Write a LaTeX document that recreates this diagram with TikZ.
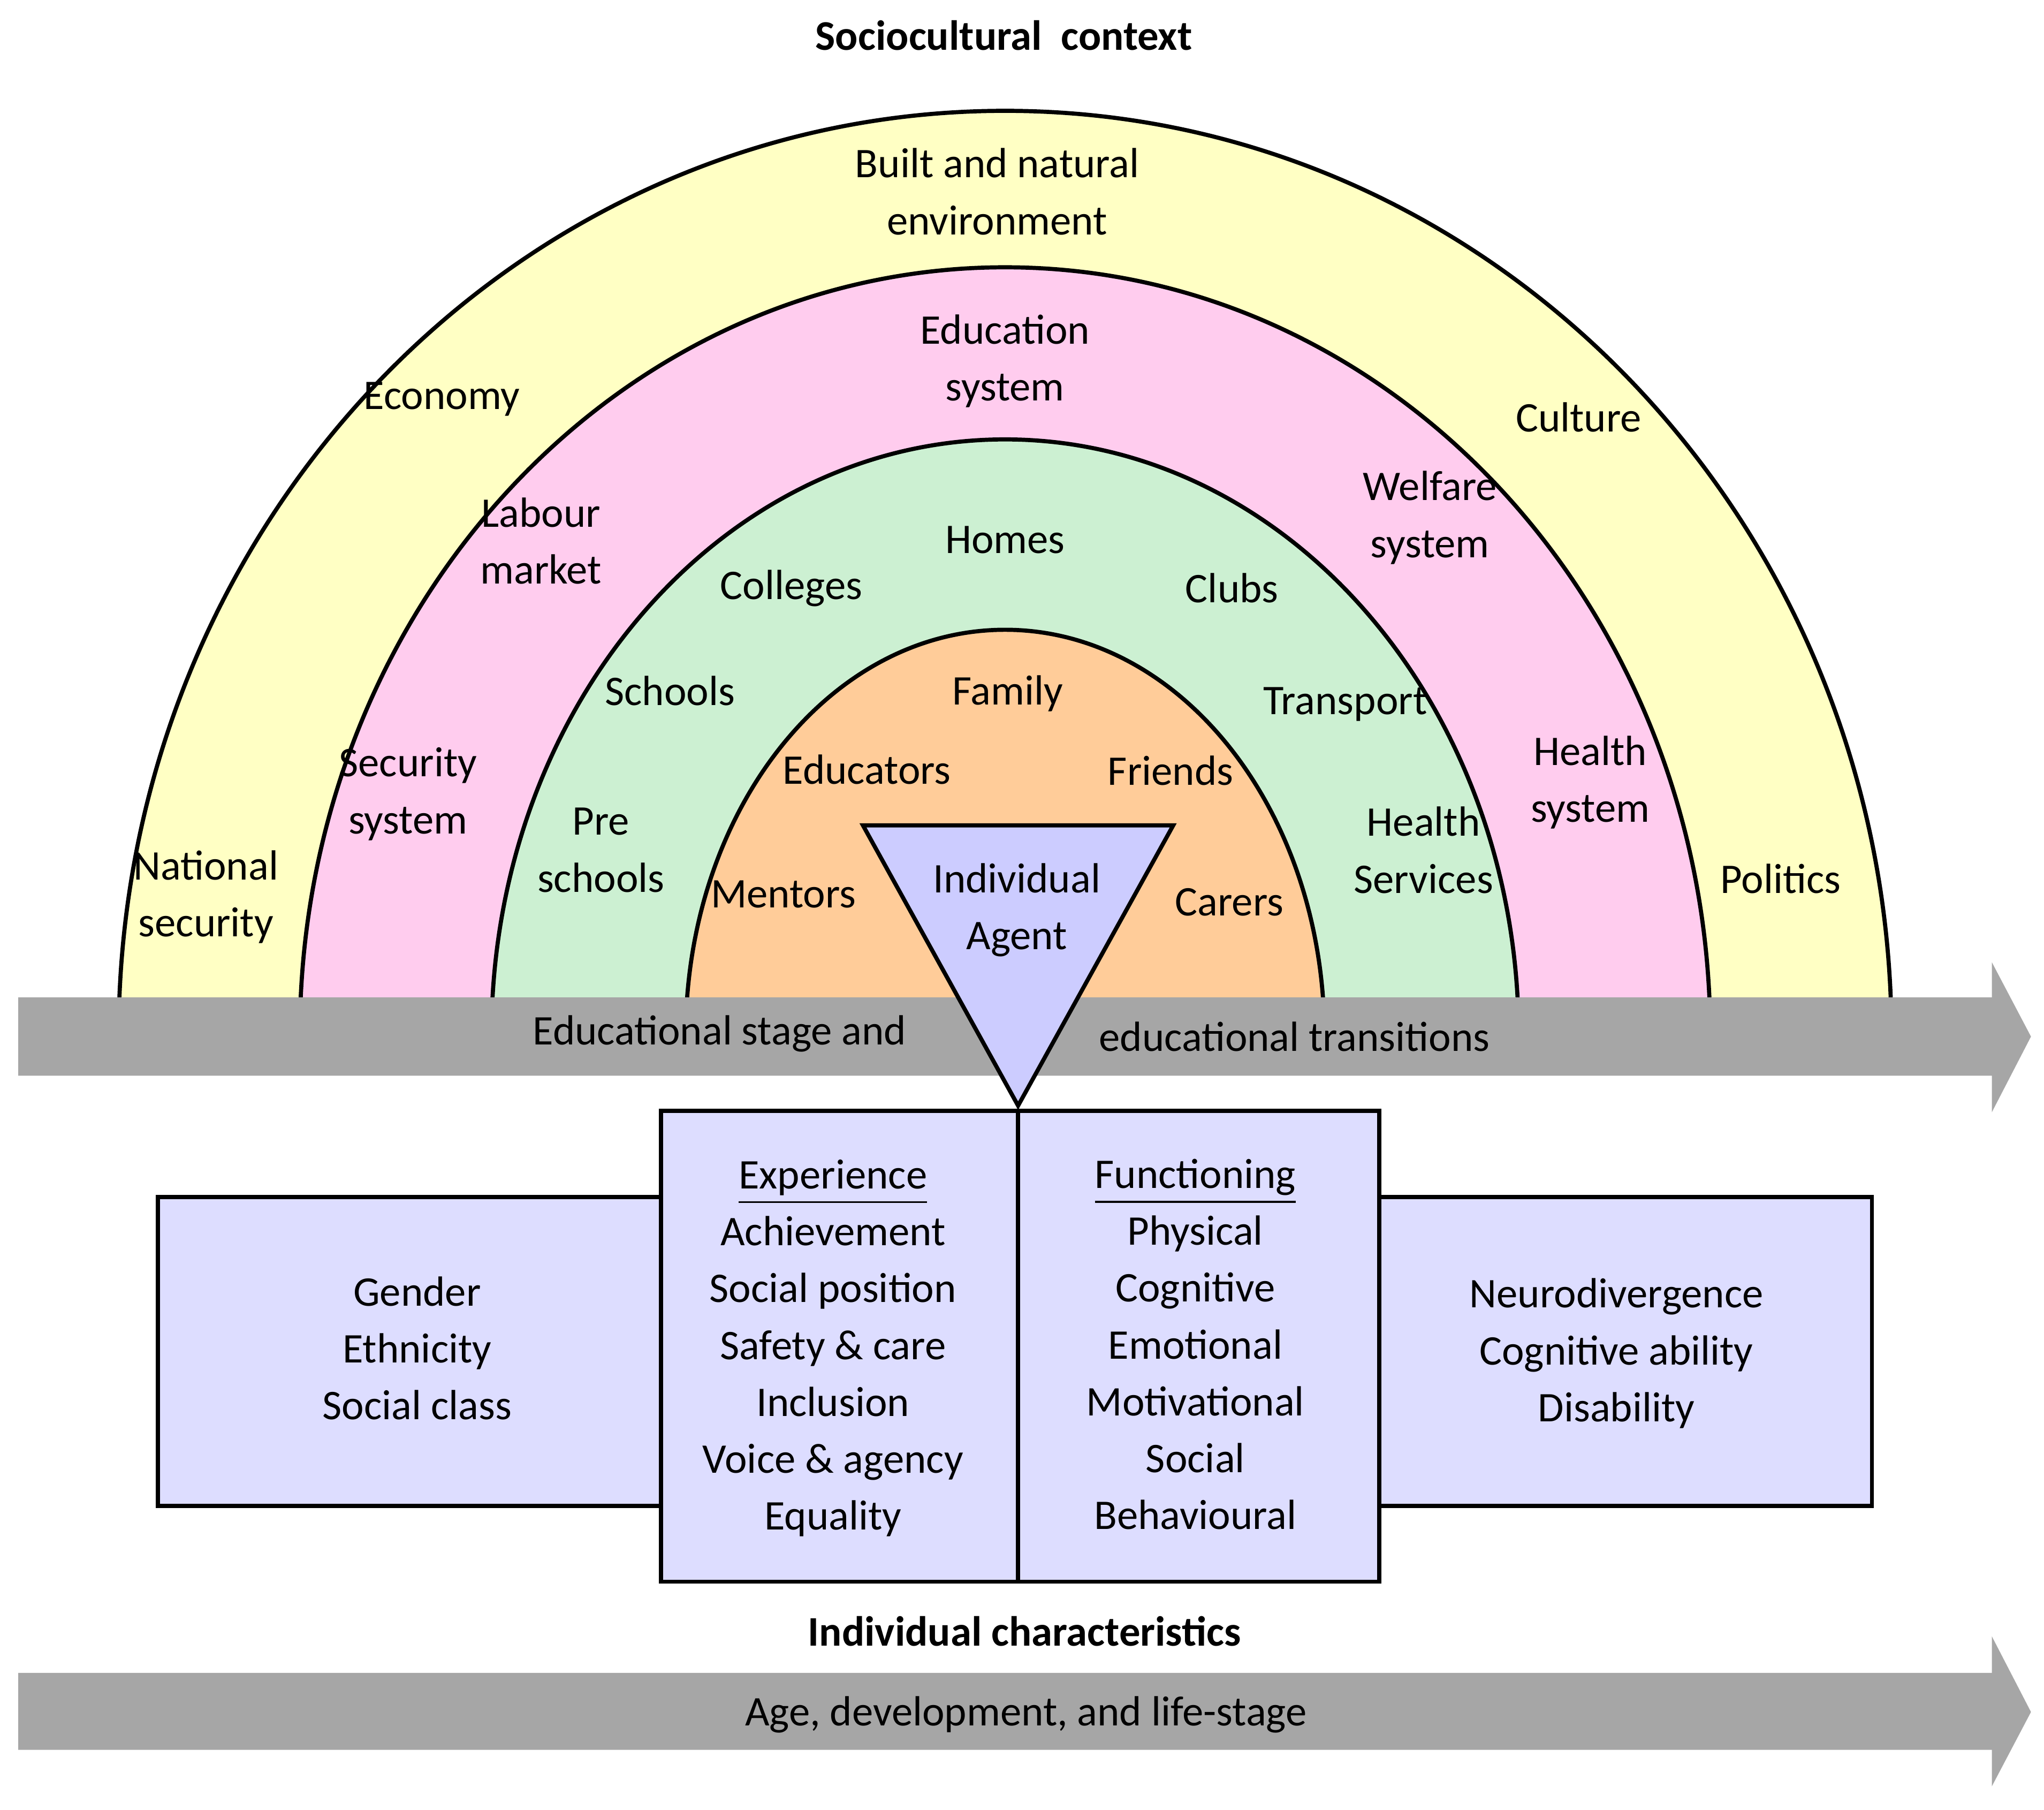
\documentclass[tikz,border=0pt]{standalone}
\usepackage{fontspec}
\setmainfont{Carlito}
\begin{document}
\begin{tikzpicture}[x=0.01cm,y=-0.01cm,
  lbl/.style={align=center,font=\fontsize{9.2}{12.4}\selectfont,inner sep=0pt},
  ttl/.style={align=center,font=\fontsize{9.2}{12.4}\selectfont\bfseries,inner sep=0pt},
  ring/.style={draw=black,line width=0.9pt},
  gbar/.style={fill=black!35,draw=none},
  box/.style={draw=black,line width=0.9pt,fill=boxc}]
\definecolor{yel}{HTML}{FFFFC4}
\definecolor{pnk}{HTML}{FFCCEE}
\definecolor{grn}{HTML}{CCF0D2}
\definecolor{org}{HTML}{FFCC99}
\definecolor{tri}{HTML}{CCCCFF}
\definecolor{boxc}{HTML}{DDDDFF}
\useasboundingbox (0,0) rectangle (1568,1388);
\fill[white] (0,0) rectangle (1568,1388);
\begin{scope}
\clip (0,0) rectangle (1568,790);
\draw[ring,fill=yel] (771,795) ellipse [x radius=680,y radius=710];
\draw[ring,fill=pnk] (771,795) ellipse [x radius=541,y radius=590];
\draw[ring,fill=grn] (771,795) ellipse [x radius=394,y radius=458];
\draw[ring,fill=org] (771,795) ellipse [x radius=245,y radius=312];
\end{scope}
% top bar
\fill[gbar] (14,765) -- (1528,765) -- (1528,738) -- (1558,795) -- (1528,853) -- (1528,825) -- (14,825) -- cycle;
% bottom bar
\fill[gbar] (14,1283) -- (1528,1283) -- (1528,1255) -- (1558,1313) -- (1528,1370) -- (1528,1342) -- (14,1342) -- cycle;
% triangle
\draw[ring,fill=tri] (662,633) -- (900,633) -- (781,848) -- cycle;
\coordinate (tip) at (781,848);
% boxes
\draw[box] (121,918) rectangle (507,1155);
\draw[box] (1058,918) rectangle (1436,1155);
\draw[box] (507,852) rectangle (781,1213);
\draw[box] (781,852) rectangle (1058,1213);
% texts
\node[ttl] (t1) at (770,27) {Sociocultural\ \ context};
\node[lbl] (a1) at (765,147) {Built and natural\\environment};
\node[lbl] (a2) at (339,306) {Economy};
\node[lbl] (a3) at (1211,320) {Culture};
\node[lbl] (a4) at (158,688) {National\\security};
\node[lbl] (a5) at (1366,674) {Politics};
\node[lbl] (b1) at (771,277) {Education\\system};
\node[lbl] (b2) at (415,415) {Labour\\market};
\node[lbl] (b3) at (1097,397) {Welfare\\system};
\node[lbl] (b4) at (313,609) {Security\\system};
\node[lbl] (b5) at (1220,600) {Health\\system};
\node[lbl] (c1) at (771,414) {Homes};
\node[lbl] (c2) at (607,451) {Colleges};
\node[lbl] (c3) at (945,451) {Clubs};
\node[lbl] (c4) at (514,530) {Schools};
\node[lbl] (c5) at (1032,540) {Transport};
\node[lbl] (c6) at (461,652) {Pre\\schools};
\node[lbl] (c7) at (1092,652) {Health\\Services};
\node[lbl] (d1) at (773,532) {Family};
\node[lbl] (d2) at (665,590) {Educators};
\node[lbl] (d3) at (898,591) {Friends};
\node[lbl] (d4) at (601,686) {Mentors};
\node[lbl] (d5) at (943,692) {Carers};
\node[lbl] (ag) at (780,698) {Individual\\Agent};
\node[lbl] (e1) at (552,793) {Educational stage and};
\node[lbl] (e2) at (993,795) {educational transitions};
\node[lbl] (f1) at (320,1034) {Gender\\Ethnicity\\Social class};
\node[lbl] (f2) at (639,1034) {\underline{Experience}\\Achievement\\Social position\\Safety \& care\\Inclusion\\Voice \& agency\\Equality};
\node[lbl] (f3) at (917,1031) {\underline{Functioning}\\Physical\\Cognitive\\Emotional\\Motivational\\Social\\Behavioural};
\node[lbl] (f4) at (1240,1038) {Neurodivergence\\Cognitive ability\\Disability};
\node[ttl] (t2) at (786,1251) {Individual characteristics};
\node[lbl] (g1) at (787,1315) {Age, development, and life-stage};
\end{tikzpicture}
\end{document}
